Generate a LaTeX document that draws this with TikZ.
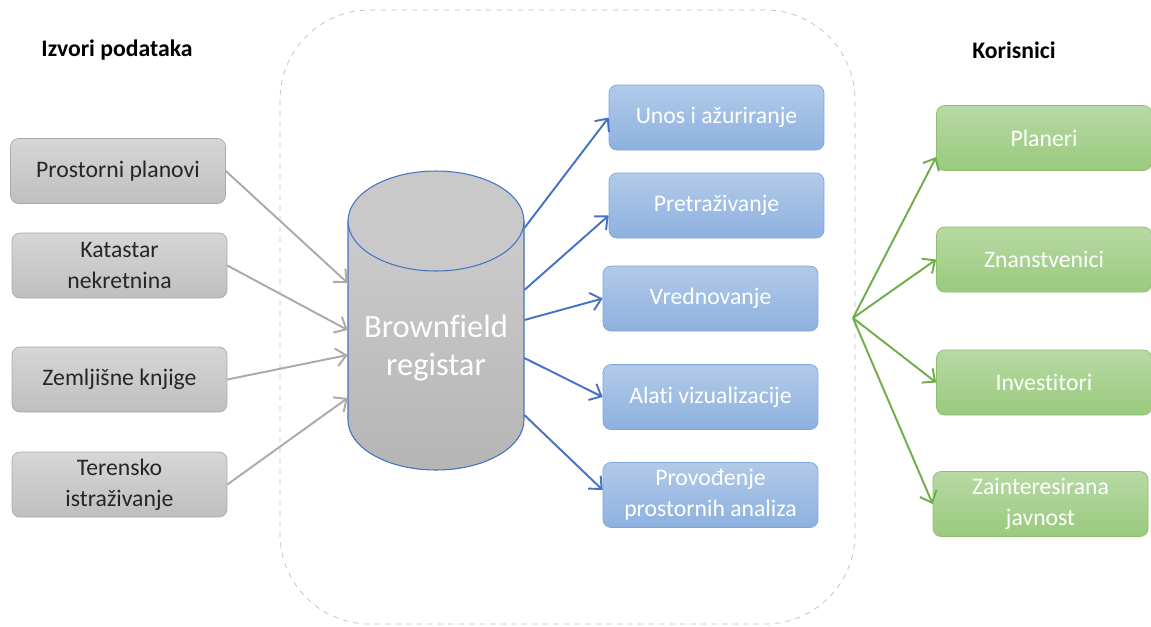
\documentclass[tikz,border=0pt]{standalone}
\usepackage{fontspec}
\setmainfont{Carlito}[RawFeature=-liga]
\usepackage{tikz}
\usetikzlibrary{arrows.meta, positioning, calc}
\definecolor{srcfill}{HTML}{D6D6D6}
\definecolor{srcfillb}{HTML}{BFBFBF}
\definecolor{srcline}{HTML}{A9A9A9}
\definecolor{funfill}{HTML}{B2CAE9}
\definecolor{funfillb}{HTML}{8DB1DF}
\definecolor{funline}{HTML}{7DA5DA}
\definecolor{usrfill}{HTML}{B7D9A3}
\definecolor{usrfillb}{HTML}{9ACA7E}
\definecolor{usrline}{HTML}{8CC06E}
\definecolor{bluearr}{HTML}{4472C4}
\definecolor{greenarr}{HTML}{70AD47}
\definecolor{grayarr}{HTML}{AAAAAA}

\begin{document}
\begin{tikzpicture}[x=0.02cm, y=-0.02cm]
\tikzstyle{box} = [rounded corners=0.16cm, minimum width=4.3cm, minimum height=1.3cm, align=center, font=\fontsize{13.5}{17.5}\selectfont]
\tikzstyle{source} = [box, draw=srcline, top color=srcfill, bottom color=srcfillb, text=black!85]
\tikzstyle{function} = [box, draw=funline, top color=funfill, bottom color=funfillb, text=white]
\tikzstyle{user} = [box, draw=usrline, top color=usrfill, bottom color=usrfillb, text=white]
\tikzstyle{feed} = [-{Straight Barb[length=2mm, width=3.6mm]}, line width=1.1pt]
\useasboundingbox (0,0) rectangle (1151,626);
\draw[dashed, black!25, rounded corners=1.8cm] (280,10) rectangle (855,624);
% headers
\node[font=\fontsize{13.5}{17}\selectfont\bfseries] (srchead) at (117,50) {Izvori podataka};
\node[font=\fontsize{13.5}{17}\selectfont\bfseries] (usrhead) at (1014,50) {Korisnici};
% register
\fill[top color=black!20, bottom color=black!29, draw=bluearr, line width=0.6pt]
  (348,221) -- (348,420) arc[start angle=180, end angle=360, x radius=1.76cm, y radius=1cm] -- (524,221) -- cycle;
\draw[fill=black!21, draw=bluearr, line width=0.6pt] (436,221) ellipse [x radius=1.76cm, y radius=1cm];
\node[minimum width=3.52cm, align=center, text=white, font=\fontsize{18.5}{22}\selectfont] (reg) at (436,348) {Brownfield\\registar};
% sources
\node[source] (plans) at (118,171) {Prostorni planovi};
\node[source] (cadastre) at (119.5,265.5) {Katastar\\nekretnina};
\node[source] (landbook) at (119.5,379.5) {Zemljišne knjige};
\node[source] (field) at (119.5,484.5) {Terensko\\istraživanje};
% functions
\node[function] (entry) at (716.5,117.5) {Unos i ažuriranje};
\node[function] (search) at (716.5,205.5) {Pretraživanje};
\node[function] (valuation) at (710.5,298.5) {Vrednovanje};
\node[function] (visual) at (710.5,397) {Alati vizualizacije};
\node[function] (analysis) at (710.5,495) {Provođenje\\prostornih analiza};
% users
\node[user] (planners) at (1044,138) {Planeri};
\node[user] (scientists) at (1044,259.5) {Znanstvenici};
\node[user] (investors) at (1044,382.5) {Investitori};
\node[user] (public) at (1040.5,504) {Zainteresirana\\javnost};
\coordinate (hub) at (853,318);
% connectors
\draw[feed, grayarr] (plans.east) -- ([yshift=1.3cm]reg.west);
\draw[feed, grayarr] (cadastre.east) -- ([yshift=0.36cm]reg.west);
\draw[feed, grayarr] (landbook.east) -- ([yshift=-0.14cm]reg.west);
\draw[feed, grayarr] (field.east) -- ([yshift=-1cm]reg.west);
\draw[feed, bluearr] ([yshift=2.4cm]reg.east) -- (entry.west);
\draw[feed, bluearr] ([yshift=1.16cm]reg.east) -- ([yshift=-0.2cm]search.west);
\draw[feed, bluearr] ([yshift=0.56cm]reg.east) -- (valuation.west);
\draw[feed, bluearr] ([yshift=-0.2cm]reg.east) -- (visual.west);
\draw[feed, bluearr] ([yshift=-1.34cm]reg.east) -- ([yshift=0.1cm]analysis.west);
\foreach \target/\shift in {planners/-0.38cm, scientists/0cm, investors/0cm, public/0cm} {
    \draw[feed, greenarr] (hub) -- ([yshift=\shift]\target.west);
}
\end{tikzpicture}
\end{document}
